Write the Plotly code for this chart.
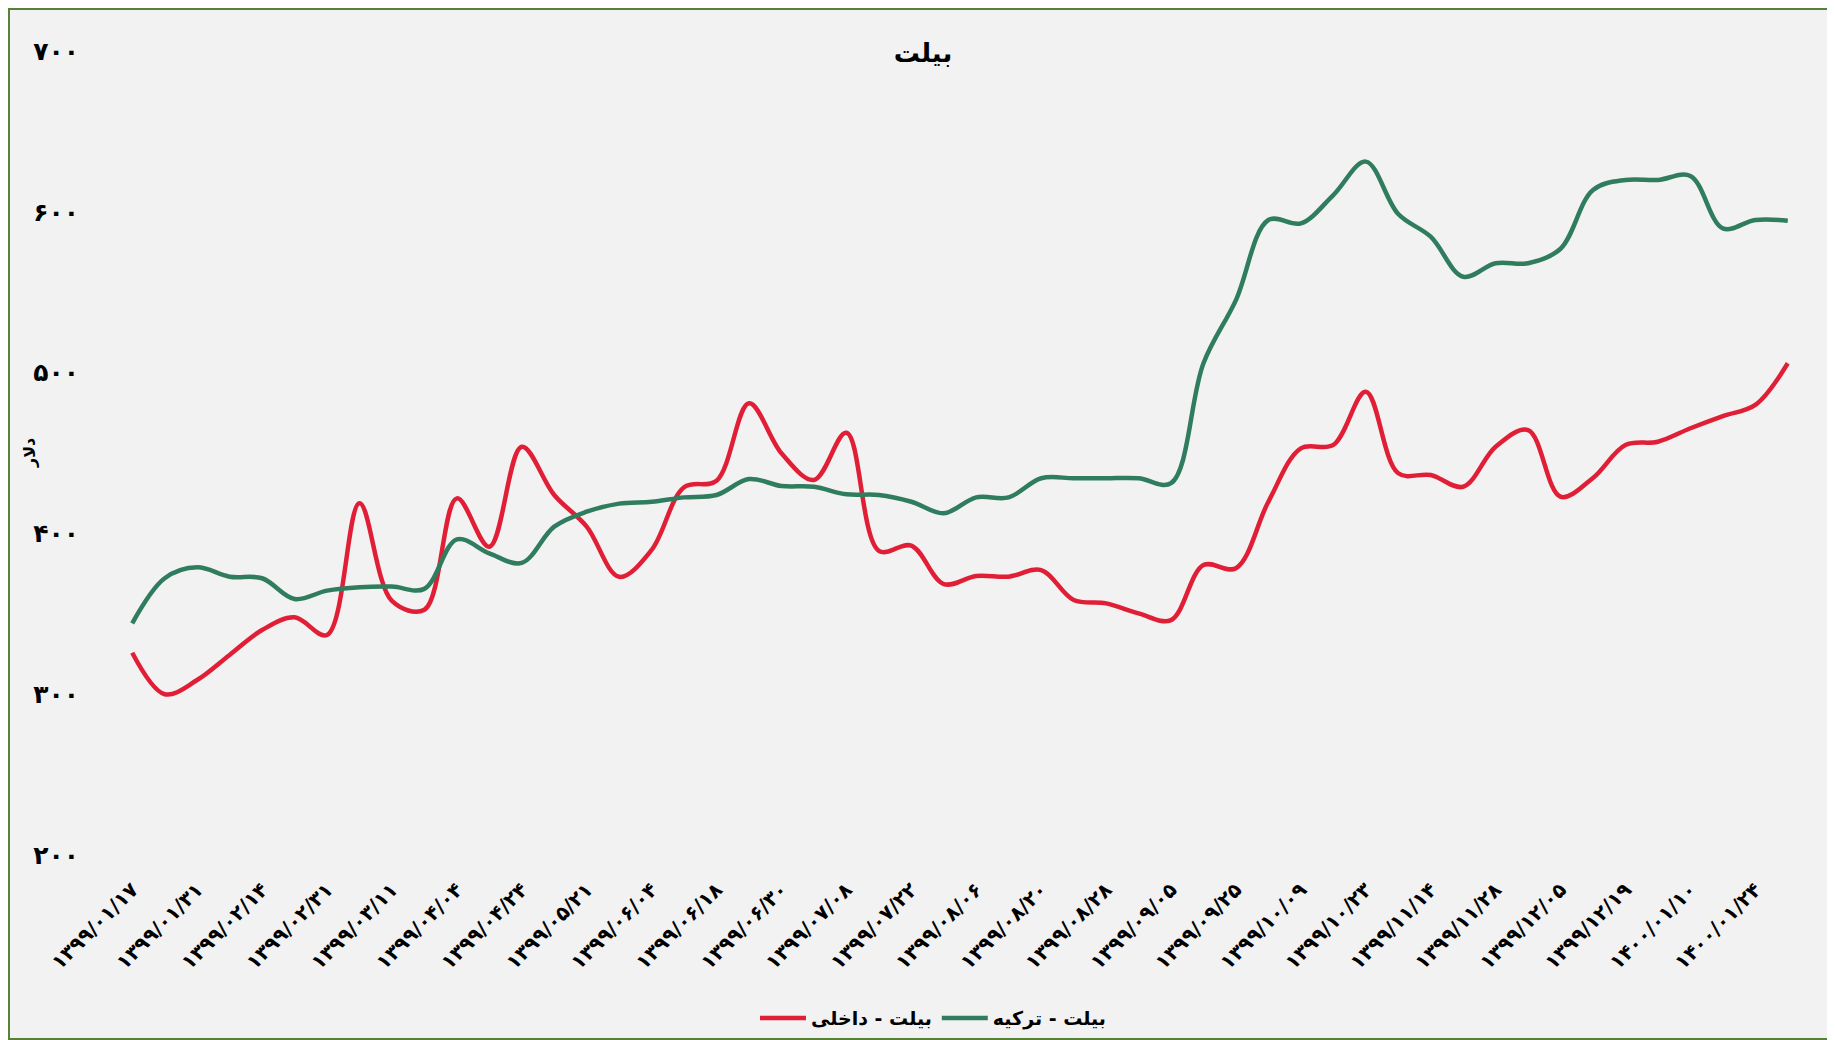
import plotly.graph_objects as go

FA = str.maketrans("0123456789", "۰۱۲۳۴۵۶۷۸۹")

# Category dates (every other one is labelled on the axis)
dates = [
    "1399/01/17", "1399/01/24", "1399/01/31", "1399/02/07", "1399/02/14", "1399/02/24",
    "1399/02/31", "1399/03/04", "1399/03/11", "1399/03/25", "1399/04/04", "1399/04/14",
    "1399/04/24", "1399/05/07", "1399/05/21", "1399/05/28", "1399/06/04", "1399/06/11",
    "1399/06/18", "1399/06/25", "1399/06/30", "1399/07/02", "1399/07/08", "1399/07/15",
    "1399/07/22", "1399/07/29", "1399/08/06", "1399/08/13", "1399/08/20", "1399/08/24",
    "1399/08/28", "1399/09/01", "1399/09/05", "1399/09/15", "1399/09/25", "1399/10/02",
    "1399/10/09", "1399/10/16", "1399/10/23", "1399/11/01", "1399/11/14", "1399/11/21",
    "1399/11/28", "1399/12/01", "1399/12/05", "1399/12/12", "1399/12/19", "1399/12/26",
    "1400/01/10", "1400/01/17", "1400/01/24", "1400/01/31",
]
categories = [d.translate(FA) for d in dates]
tick_labels = categories[::2]

billet_domestic = [
    325.8, 300.0, 308.8, 324.4, 339.9, 347.8, 336.8, 418.7, 358.0, 352.5,
    421.8, 391.7, 453.9, 423.9, 404.2, 373.0, 389.7, 428.7, 432.8, 480.9,
    449.8, 433.2, 462.6, 389.2, 392.4, 368.5, 373.5, 373.1, 377.2, 358.6,
    356.5, 350.3, 346.1, 380.3, 378.3, 419.7, 452.9, 455.0, 488.1, 437.4,
    436.3, 429.0, 453.9, 464.3, 422.8, 434.5, 455.0, 457.0, 465.4, 473.0,
    479.9, 505.8,
]
billet_turkey = [
    344.1, 372.1, 378.9, 373.1, 372.1, 359.2, 364.4, 366.5, 366.9, 365.5,
    396.3, 387.6, 381.7, 404.2, 413.5, 418.5, 419.7, 422.4, 423.9, 433.8,
    429.5, 429.0, 424.3, 423.9, 419.7, 412.5, 422.4, 422.4, 434.3, 434.3,
    434.3, 434.3, 431.2, 505.8, 545.1, 594.9, 592.8, 610.4, 631.2, 598.6,
    584.5, 559.6, 568.0, 568.0, 577.0, 613.6, 619.8, 619.8, 622.3, 589.7,
    594.9, 594.5,
]

y_ticks = [200, 300, 400, 500, 600, 700]
y_tick_text = [str(v).translate(FA) for v in y_ticks]
y_title = "دلار"

FONT = "DejaVu Sans"
RED = "#E01F37"
GREEN = "#2F7D5E"
FRAME = "#568235"
BG = "#F2F2F2"

fig = go.Figure()
fig.add_trace(go.Scatter(
    x=categories, y=billet_domestic, mode="lines", name="بیلت - داخلی",
    line=dict(color=RED, width=4.5, shape="spline", smoothing=1.0),
))
fig.add_trace(go.Scatter(
    x=categories, y=billet_turkey, mode="lines", name="بیلت - ترکیه",
    line=dict(color=GREEN, width=4.5, shape="spline", smoothing=1.0),
))

fig.add_shape(
    type="rect", xref="paper", yref="paper",
    x0=-0.0634, x1=1.0166, y0=-0.2289, y1=1.0522,
    line=dict(color=FRAME, width=2), fillcolor=BG, layer="below",
)

fig.add_annotation(
    text=y_title, xref="paper", yref="paper", x=-0.0515, y=0.5,
    xanchor="center", yanchor="middle", textangle=-90, showarrow=False,
    font=dict(size=16, family=FONT, weight="bold", color="#000000"),
)

fig.update_layout(
    width=1827, height=1032,
    margin=dict(l=108, r=31, t=43, b=185, autoexpand=False),
    paper_bgcolor="white",
    plot_bgcolor="rgba(0,0,0,0)",
    font=dict(family=FONT, color="#000000"),
    title=dict(
        text="بیلت", x=0.5008, xref="container", xanchor="center",
        y=0.9564, yref="container", yanchor="middle",
        font=dict(size=26, family=FONT, weight="bold", color="#000000"),
    ),
    showlegend=True,
    legend=dict(
        orientation="h", x=0.484, xanchor="center", y=-0.203, yanchor="middle",
        font=dict(size=19, family=FONT, weight="bold", color="#000000"),
        bgcolor="rgba(0,0,0,0)", itemwidth=46,
    ),
    xaxis=dict(
        type="category", range=[-0.5, len(categories) - 0.5], automargin=False,
        tickmode="array", tickvals=tick_labels, ticktext=tick_labels,
        tickangle=-45, showgrid=False, zeroline=False, showline=False, ticks="",
        ticklabelstandoff=18,
        tickfont=dict(size=20, family=FONT, weight="bold", color="#000000"),
    ),
    yaxis=dict(
        range=[200, 700], tickmode="array", tickvals=y_ticks, ticktext=y_tick_text,
        automargin=False,
        showgrid=False, zeroline=False, showline=False, ticks="",
        ticklabelstandoff=36,
        tickfont=dict(size=25, family=FONT, weight="bold", color="#000000"),
    ),
)

fig.write_html("out.html")
